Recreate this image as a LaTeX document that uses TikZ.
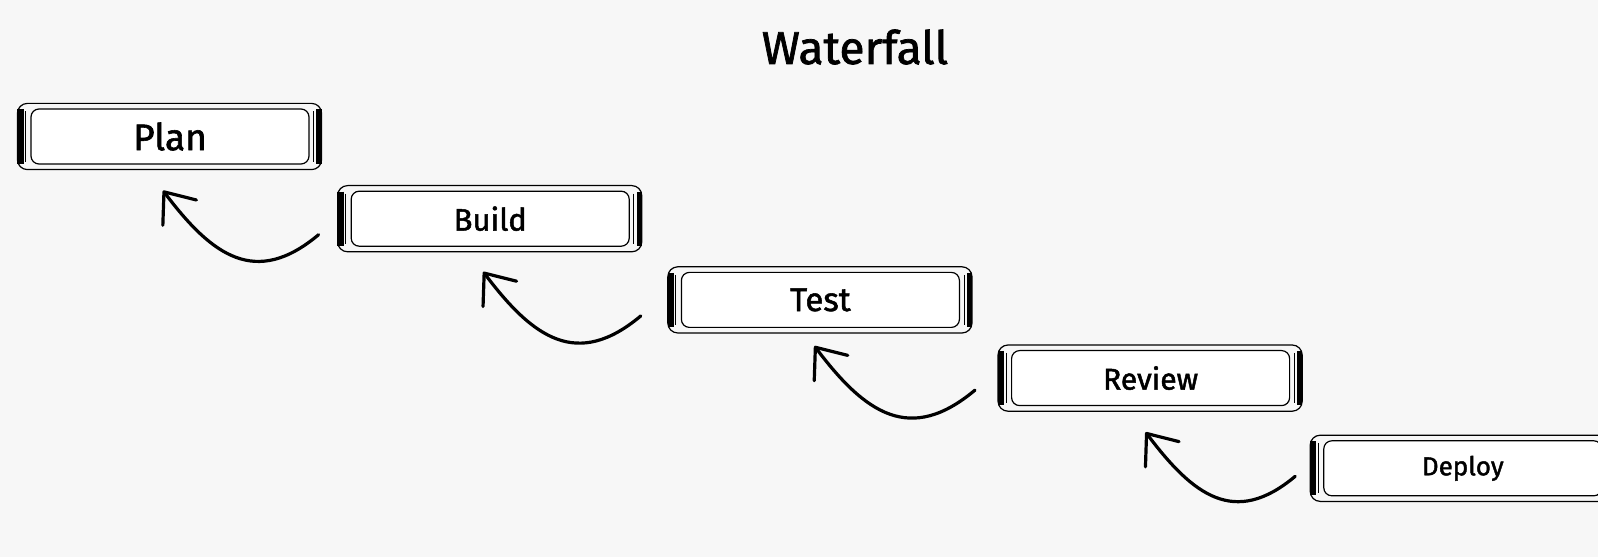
\documentclass[tikz,border=0pt]{standalone}
\usepackage{fontspec}
\setsansfont{Fira Sans}[FakeBold=1.6]
\usetikzlibrary{positioning,arrows.meta}
\definecolor{paper}{RGB}{247,247,247}
\newcommand{\fs}[1]{\sffamily\fontsize{#1}{#1}\selectfont}
\begin{document}
\begin{tikzpicture}[
  x=1pt, y=1pt,
  stage/.style={draw, fill=white, line width=1.2pt, rounded corners=8pt, minimum width=278pt, minimum height=55pt, inner sep=0pt},
  back/.style={line width=3.2pt, line cap=round, -{Straight Barb[round,length=26pt,width=42pt]}, looseness=1.3}
]
\useasboundingbox[fill=paper] (0,0) rectangle (1598,557);
\node[anchor=base, font=\fs{46}] (title) at (855,493) {Waterfall};
\node[stage, font=\fs{37}] (plan) at (170,420.5) {Plan};
\node[stage, font=\fs{31}, below right=26pt and 41pt of plan] (build) {Build};
\node[stage, font=\fs{33}, below right=25pt and 51pt of build] (test) {Test};
\node[stage, font=\fs{30}, below right=22pt and 51pt of test] (review) {Review};
\node[stage, font=\fs{26}, below right=34pt and 33pt of review] (deploy) {Deploy};

\foreach \s in {plan,build,test,review,deploy} {
  \draw[line width=1.2pt, rounded corners=10pt] ([xshift=-13pt,yshift=5pt]\s.north west) rectangle ([xshift=12pt,yshift=-5pt]\s.south east);
  \draw[line width=1pt] ([xshift=-5pt,yshift=-3pt]\s.north west) -- ([xshift=-5pt,yshift=3pt]\s.south west);
  \draw[line width=1pt] ([xshift=4pt,yshift=-3pt]\s.north east) -- ([xshift=4pt,yshift=3pt]\s.south east);
  \draw[line width=6.5pt] ([xshift=-10pt,yshift=-1pt]\s.north west) -- ([xshift=-10pt,yshift=1pt]\s.south west);
  \draw[line width=5.5pt] ([xshift=9.5pt,yshift=-1pt]\s.north east) -- ([xshift=9.5pt,yshift=1pt]\s.south east);
}

\draw[back] ([xshift=-32pt,yshift=-16pt]build.west) to[out=220,in=-53] ([xshift=-7pt,yshift=-26pt]plan.south);
\draw[back] ([xshift=-40pt,yshift=-16pt]test.west) to[out=220,in=-53] ([xshift=-7pt,yshift=-25pt]build.south);
\draw[back] ([xshift=-36pt,yshift=-12pt]review.west) to[out=220,in=-53] ([xshift=-6pt,yshift=-18pt]test.south);
\draw[back] ([xshift=-28pt,yshift=-8pt]deploy.west) to[out=220,in=-53] ([xshift=-5pt,yshift=-26pt]review.south);
\end{tikzpicture}
\end{document}
